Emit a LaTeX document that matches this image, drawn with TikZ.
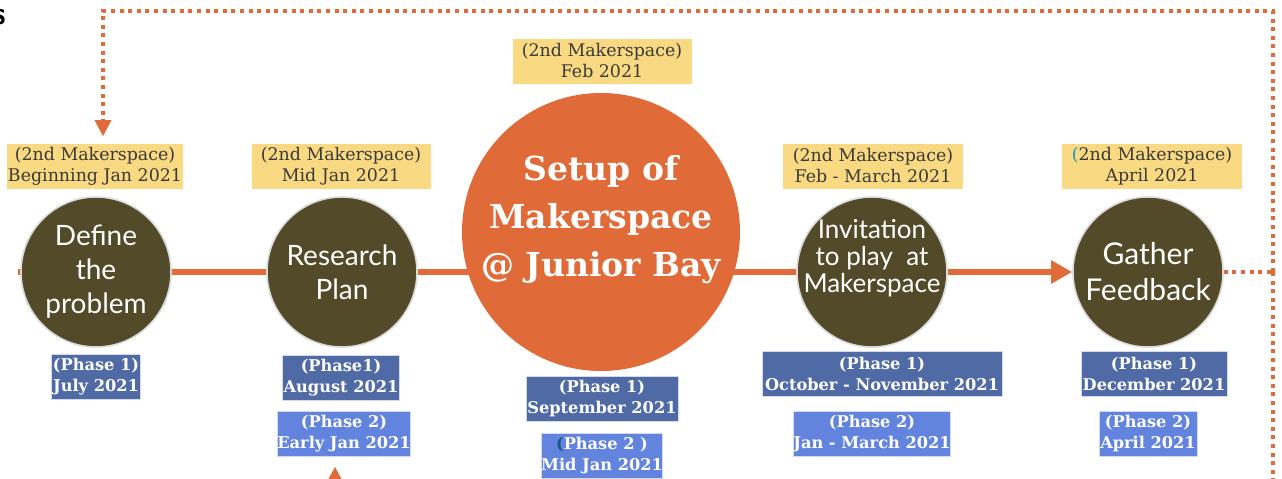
\documentclass[tikz,border=0pt]{standalone}
\usepackage{fontspec}
\setmainfont{DejaVu Serif}
\newfontfamily\roundfont{Lato}
\usetikzlibrary{arrows.meta, backgrounds}
\definecolor{olivefill}{HTML}{534A29}
\definecolor{setuporange}{HTML}{E06B38}
\definecolor{planyellow}{HTML}{F9D981}
\definecolor{plantext}{HTML}{3A3A3A}
\definecolor{phaseblue}{HTML}{4F6AA5}
\definecolor{phaselight}{HTML}{6384DE}
\definecolor{tealmark}{HTML}{1C95C8}
\tikzstyle{stage} = [circle, minimum size=75pt, inner sep=0pt, fill=olivefill, draw=black!15, line width=0.8pt, text=white, align=center, font=\roundfont\fontsize{14}{17}\selectfont]
\tikzstyle{bigstage} = [circle, minimum size=139pt, inner sep=0pt, fill=setuporange]
\tikzstyle{bigtext} = [align=center, text=white, font=\bfseries\fontsize{16.5}{24}\selectfont]
\tikzstyle{yellowbox} = [rectangle, minimum height=22.5pt, inner sep=0pt, fill=planyellow, text=plantext, align=center, font=\fontsize{8.7}{10.5}\selectfont]
\tikzstyle{bluebox} = [rectangle, minimum height=22.5pt, inner sep=0pt, fill=phaseblue, draw=white!75!phaseblue, line width=0.4pt, text=white, align=center, font=\bfseries\fontsize{8.1}{10.5}\selectfont]
\tikzstyle{lightbox} = [bluebox, fill=phaselight]
\tikzstyle{arrow} = [line width=3pt, draw=setuporange, -{Triangle[length=10.5pt, width=11pt]}]
\tikzstyle{dotline} = [line width=2pt, draw=setuporange, dash pattern=on 2pt off 2.3pt]
\tikzstyle{dotarrow} = [dotline, -{Triangle[length=8pt, width=8.5pt, line width=0pt]}]

\begin{document}
\begin{tikzpicture}[x=0.5pt, y=-0.5pt]
      \useasboundingbox (0,0) rectangle (1282,478);
      \clip (0,0) rectangle (1282,478);
      % stages along the timeline
      \node (define) [stage] at (96,272) {Define\\the\\problem};
      \node (research) [stage] at (342,272) {Research\\Plan};
      \node (setup) [bigstage] at (601,232) {};
      \node (setuptext) [bigtext] at (601,220) {Setup of\\Makerspace\\@ Junior Bay};
      \node (invite) [stage] at (872,272) {};
      \node (invitetext) [align=center, text=white, font=\roundfont\fontsize{13}{13.5}\selectfont] at (872,258) {Invitation\\to play~~at\\Makerspace};
      \node (gather) [stage, font=\roundfont\fontsize{15}{18}\selectfont] at (1148,272) {Gather\\Feedback};
      % 2nd makerspace dates
      \node (y1) [yellowbox, minimum width=88pt] at (95,166) {(2nd Makerspace)\\Beginning Jan 2021};
      \node (y2) [yellowbox, minimum width=89.5pt] at (341,166) {(2nd Makerspace)\\Mid Jan 2021};
      \node (y3) [yellowbox, minimum width=89.5pt] at (602,61) {(2nd Makerspace)\\Feb 2021};
      \node (y4) [yellowbox, minimum width=90pt] at (873,166) {(2nd Makerspace)\\Feb - March 2021};
      \node (y5) [yellowbox, minimum width=90pt] at (1152,166) {{\color{tealmark}(}2nd Makerspace)\\April 2021};
      % phase 1 dates
      \node (b1) [bluebox, minimum width=44.5pt] at (96,377) {(Phase 1)\\July 2021};
      \node (b2) [bluebox, minimum width=58.5pt] at (341,378) {(Phase1)\\August 2021};
      \node (b3) [bluebox, minimum width=76pt] at (602,399) {(Phase 1)\\September 2021};
      \node (b4) [bluebox, minimum width=120pt] at (882,374) {(Phase 1)\\October - November 2021};
      \node (b5) [bluebox, minimum width=73pt] at (1154,374) {(Phase 1)\\December 2021};
      % phase 2 dates
      \node (l2) [lightbox, minimum width=66.5pt] at (344,434) {(Phase 2)\\Early Jan 2021};
      \node (l3) [lightbox, minimum width=59.5pt] at (602,456) {{\color{tealmark!60!black}(}Phase 2 )\\Mid Jan 2021};
      \node (l4) [lightbox, minimum width=75.5pt] at (872,434) {(Phase 2)\\Jan - March 2021};
      \node (l5) [lightbox, minimum width=49pt] at (1148,434) {(Phase 2)\\April 2021};
      % timeline
      \begin{scope}[on background layer]
        \draw [arrow] ([xshift=-1pt]define.west) -- (research) -- (setup.center |- research) -- (invite) -- (gather.west);
      \end{scope}
      % feedback loop
      \coordinate (rt) at (1273,272);
      \coordinate (rtop) at (1273,11);
      \coordinate (ltop) at (103,11);
      \coordinate (rbot) at (1273,490);
      \coordinate (lbot) at (335,500);
      \draw [dotline] (gather.east) -- (rt);
      \draw [dotline] (rt) -- (rbot);
      \draw [dotarrow] (rt) -- (rtop) -- (ltop) -- (ltop |- y1.north) [shorten >=3.5pt];
      \draw [dotarrow] (lbot) -- (lbot |- l2.south) [shorten >=5pt];
      \node (cut) [font=\sffamily\bfseries\fontsize{16}{16}\selectfont, anchor=east, inner sep=0pt] at (6,17) {s};
    \end{tikzpicture}
\end{document}
